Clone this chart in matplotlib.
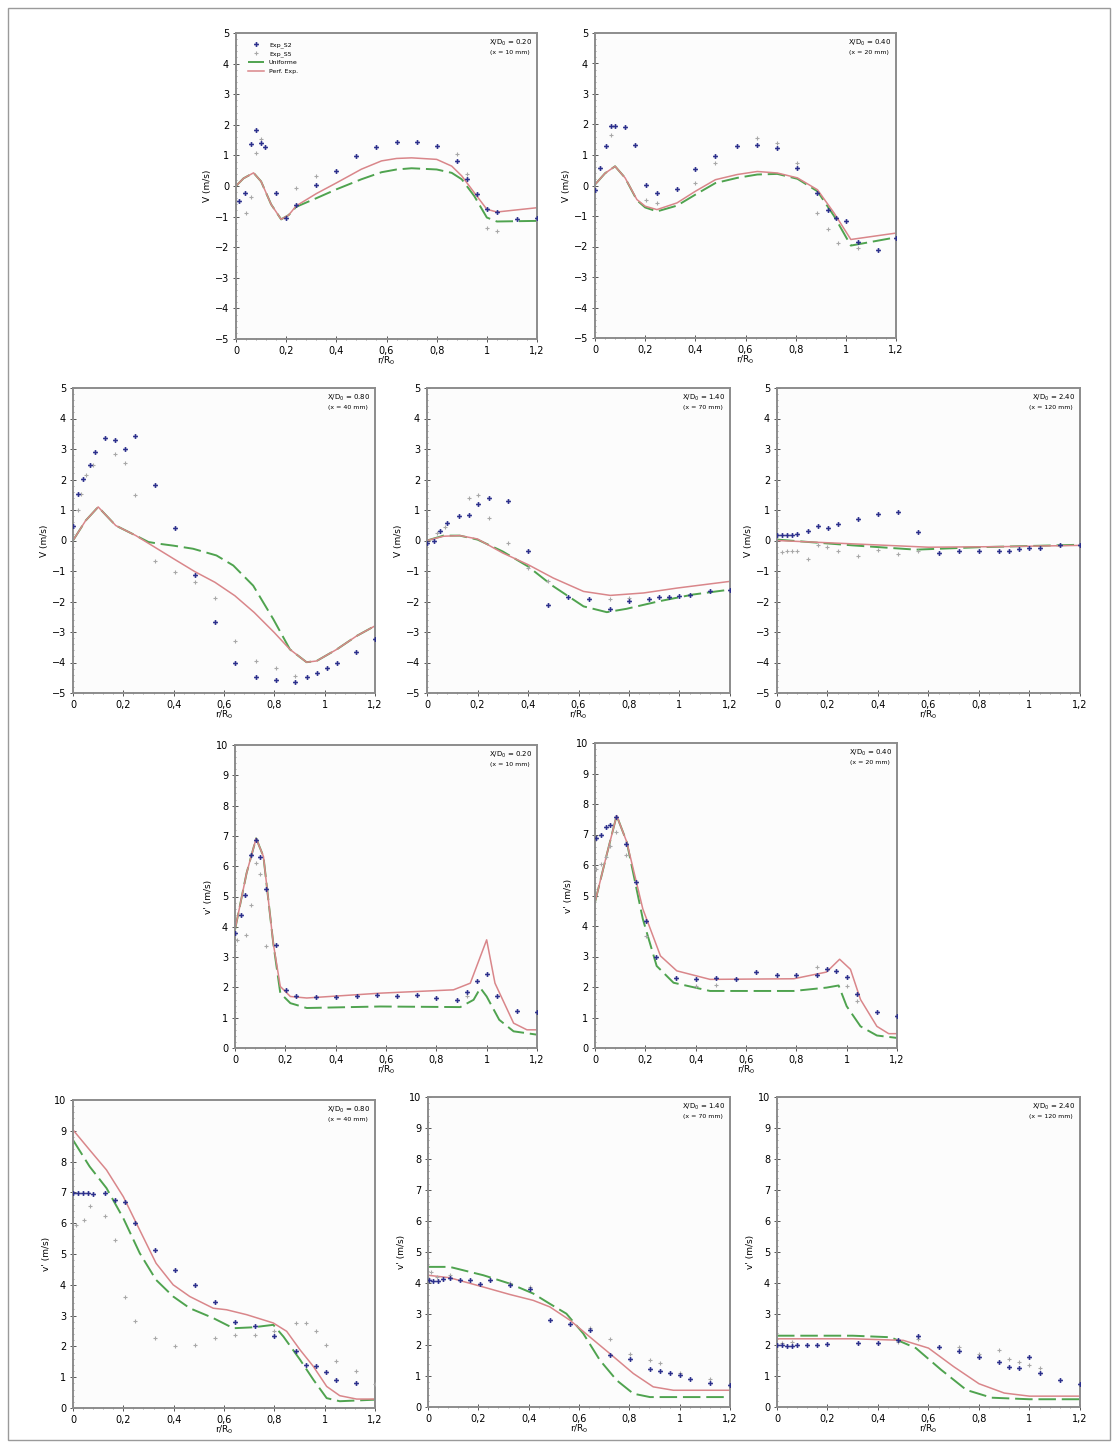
import numpy as np
import matplotlib
matplotlib.use('Agg')
import matplotlib.pyplot as plt
from matplotlib.ticker import MultipleLocator, FixedLocator
from matplotlib.patches import Rectangle

# Tamaño de figura en pixeles
W, H = 1118, 1448

# Colores
c_s2 = '#2b2f8c'
c_s5 = '#a8a8a8'
c_perf = '#d9868a'
c_unif = '#4fa34f'

# ---------------- Datos: V, X/D0 = 0.20 ----------------
v020_s2_r = [0.01, 0.035, 0.06, 0.08, 0.10, 0.115, 0.16, 0.20, 0.24, 0.32, 0.40, 0.48, 0.56, 0.64, 0.72, 0.80, 0.88, 0.92, 0.96, 1.00, 1.04, 1.12, 1.20]
v020_s2_v = [-0.49, -0.22, 1.36, 1.83, 1.41, 1.28, -0.22, -1.03, -0.62, 0.03, 0.49, 0.98, 1.28, 1.43, 1.43, 1.30, 0.82, 0.22, -0.27, -0.74, -0.85, -1.09, -1.05]
v020_s5_r = [0.04, 0.06, 0.08, 0.10, 0.24, 0.32, 0.88, 0.92, 1.00, 1.04]
v020_s5_v = [-0.87, -0.36, 1.09, 1.52, -0.05, 0.33, 1.03, 0.38, -1.36, -1.47]
v020_perf_r = [0.0, 0.03, 0.07, 0.10, 0.14, 0.18, 0.21, 0.24, 0.32, 0.40, 0.50, 0.58, 0.64, 0.70, 0.80, 0.86, 0.90, 0.95, 1.00, 1.04, 1.20]
v020_perf_v = [0.0, 0.25, 0.43, 0.15, -0.60, -1.09, -0.95, -0.65, -0.25, 0.10, 0.55, 0.82, 0.90, 0.92, 0.87, 0.65, 0.33, -0.22, -0.76, -0.85, -0.71]
v020_unif_r = [0.0, 0.03, 0.07, 0.10, 0.14, 0.18, 0.21, 0.24, 0.32, 0.40, 0.50, 0.58, 0.64, 0.70, 0.80, 0.86, 0.90, 0.95, 1.00, 1.04, 1.20]
v020_unif_v = [0.0, 0.25, 0.43, 0.15, -0.60, -1.09, -0.95, -0.68, -0.40, -0.11, 0.22, 0.45, 0.54, 0.58, 0.54, 0.43, 0.22, -0.33, -1.03, -1.16, -1.14]

# ---------------- Datos: V, X/D0 = 0.40 ----------------
v040_s2_r = [0.0, 0.02, 0.044, 0.063, 0.08, 0.12, 0.16, 0.204, 0.247, 0.327, 0.40, 0.48, 0.567, 0.647, 0.727, 0.807, 0.887, 0.927, 0.96, 1.0, 1.047, 1.127, 1.2]
v040_s2_v = [-0.14, 0.57, 1.28, 1.96, 1.96, 1.92, 1.34, 0.03, -0.25, -0.11, 0.54, 0.98, 1.28, 1.34, 1.23, 0.57, -0.25, -0.79, -1.07, -1.17, -1.86, -2.10, -1.72]
v040_s5_r = [0.063, 0.204, 0.247, 0.40, 0.48, 0.647, 0.727, 0.807, 0.887, 0.927, 0.967, 1.047]
v040_s5_v = [1.67, -0.46, -0.57, 0.08, 0.74, 1.56, 1.39, 0.74, -0.90, -1.43, -1.89, -2.05]
v040_perf_r = [0.0, 0.04, 0.08, 0.12, 0.167, 0.20, 0.247, 0.327, 0.40, 0.48, 0.567, 0.647, 0.727, 0.807, 0.887, 0.953, 1.02, 1.2]
v040_perf_v = [0.03, 0.40, 0.63, 0.25, -0.46, -0.68, -0.79, -0.57, -0.19, 0.19, 0.36, 0.46, 0.41, 0.25, -0.14, -0.90, -1.77, -1.56]
v040_unif_r = [0.0, 0.04, 0.08, 0.12, 0.167, 0.20, 0.247, 0.327, 0.40, 0.48, 0.567, 0.647, 0.727, 0.807, 0.887, 0.953, 1.02, 1.2]
v040_unif_v = [0.03, 0.40, 0.63, 0.25, -0.48, -0.72, -0.85, -0.66, -0.30, 0.08, 0.25, 0.36, 0.38, 0.22, -0.19, -1.00, -1.97, -1.70]

# ---------------- Datos: V, X/D0 = 0.80 ----------------
v080_s2_r = [0.0, 0.02, 0.04, 0.066, 0.086, 0.126, 0.166, 0.206, 0.245, 0.325, 0.404, 0.484, 0.564, 0.643, 0.727, 0.806, 0.882, 0.928, 0.968, 1.008, 1.048, 1.125, 1.2]
v080_s2_v = [0.49, 1.54, 2.03, 2.47, 2.89, 3.35, 3.30, 2.99, 3.44, 1.81, 0.41, -1.13, -2.67, -4.01, -4.48, -4.56, -4.65, -4.48, -4.34, -4.19, -4.01, -3.66, -3.24]
v080_s5_r = [0.02, 0.03, 0.053, 0.08, 0.166, 0.206, 0.245, 0.325, 0.404, 0.484, 0.564, 0.643, 0.727, 0.806, 0.882]
v080_s5_v = [0.99, 1.54, 2.14, 2.47, 2.82, 2.55, 1.48, -0.66, -1.04, -1.37, -1.87, -3.30, -3.96, -4.19, -4.45]
v080_perf_r = [0.0, 0.05, 0.10, 0.17, 0.25, 0.325, 0.40, 0.484, 0.564, 0.643, 0.72, 0.80, 0.862, 0.928, 0.968, 1.048, 1.127, 1.2]
v080_perf_v = [0.0, 0.65, 1.10, 0.49, 0.16, -0.22, -0.60, -1.02, -1.37, -1.81, -2.36, -3.02, -3.57, -3.99, -3.95, -3.57, -3.13, -2.80]
v080_unif_r = [0.0, 0.05, 0.10, 0.17, 0.25, 0.30, 0.345, 0.40, 0.477, 0.57, 0.637, 0.716, 0.796, 0.862, 0.928, 0.968, 1.048, 1.127, 1.2]
v080_unif_v = [0.0, 0.65, 1.10, 0.49, 0.16, -0.05, -0.11, -0.17, -0.27, -0.49, -0.82, -1.48, -2.58, -3.57, -3.99, -3.95, -3.57, -3.13, -2.80]

# ---------------- Datos: V, X/D0 = 1.40 ----------------
v140_s2_r = [0.0, 0.026, 0.05, 0.08, 0.125, 0.165, 0.20, 0.245, 0.32, 0.40, 0.48, 0.56, 0.64, 0.723, 0.80, 0.88, 0.92, 0.96, 1.0, 1.04, 1.12, 1.2]
v140_s2_v = [-0.08, 0.0, 0.30, 0.57, 0.79, 0.85, 1.20, 1.39, 1.31, -0.33, -2.10, -1.84, -1.91, -2.24, -1.97, -1.93, -1.84, -1.84, -1.82, -1.80, -1.67, -1.61]
v140_s5_r = [0.04, 0.07, 0.165, 0.20, 0.245, 0.32, 0.40, 0.48, 0.723, 0.80]
v140_s5_v = [0.25, 0.45, 1.39, 1.50, 0.74, -0.08, -0.90, -1.34, -1.93, -1.88]
v140_perf_r = [0.0, 0.066, 0.13, 0.20, 0.30, 0.40, 0.50, 0.62, 0.726, 0.858, 0.99, 1.2]
v140_perf_v = [0.0, 0.14, 0.16, 0.05, -0.41, -0.79, -1.23, -1.67, -1.80, -1.72, -1.56, -1.34]
v140_unif_r = [0.0, 0.066, 0.13, 0.20, 0.30, 0.40, 0.50, 0.62, 0.712, 0.79, 0.92, 1.055, 1.2]
v140_unif_v = [0.0, 0.16, 0.16, 0.03, -0.36, -0.85, -1.50, -2.16, -2.35, -2.24, -1.99, -1.77, -1.61]

# ---------------- Datos: V, X/D0 = 2.40 ----------------
v240_s2_r = [0.0, 0.02, 0.04, 0.06, 0.08, 0.123, 0.162, 0.202, 0.24, 0.32, 0.40, 0.48, 0.56, 0.64, 0.72, 0.80, 0.88, 0.92, 0.96, 1.0, 1.04, 1.12, 1.2]
v240_s2_v = [0.19, 0.19, 0.19, 0.19, 0.20, 0.30, 0.46, 0.42, 0.55, 0.71, 0.87, 0.95, 0.27, -0.40, -0.34, -0.36, -0.34, -0.34, -0.27, -0.23, -0.23, -0.16, -0.16]
v240_s5_r = [0.02, 0.04, 0.06, 0.08, 0.123, 0.162, 0.20, 0.24, 0.32, 0.40, 0.48, 0.56]
v240_s5_v = [-0.38, -0.36, -0.36, -0.36, -0.60, -0.16, -0.22, -0.36, -0.51, -0.30, -0.44, -0.33]
v240_perf_r = [0.0, 0.3, 0.6, 0.9, 1.2]
v240_perf_v = [0.0, -0.11, -0.22, -0.20, -0.16]
v240_unif_r = [0.0, 0.3, 0.55, 0.8, 1.2]
v240_unif_v = [0.03, -0.16, -0.30, -0.22, -0.14]

# ---------------- Datos: v', X/D0 = 0.20 ----------------
f020_s2_r = [0.0, 0.022, 0.04, 0.062, 0.084, 0.10, 0.123, 0.163, 0.203, 0.243, 0.322, 0.40, 0.484, 0.564, 0.643, 0.723, 0.80, 0.882, 0.922, 0.96, 1.0, 1.04, 1.12, 1.2]
f020_s2_v = [3.79, 4.40, 5.05, 6.37, 6.87, 6.29, 5.24, 3.41, 1.92, 1.70, 1.68, 1.67, 1.70, 1.76, 1.70, 1.74, 1.65, 1.59, 1.85, 2.20, 2.45, 1.70, 1.21, 1.18]
f020_s5_r = [0.007, 0.044, 0.062, 0.084, 0.10, 0.123, 0.922]
f020_s5_v = [3.57, 3.74, 4.73, 6.10, 5.75, 3.35, 1.73]
f020_perf_r = [0.0, 0.046, 0.084, 0.113, 0.152, 0.18, 0.22, 0.285, 0.577, 0.868, 0.935, 1.0, 1.033, 1.107, 1.16, 1.2]
f020_perf_v = [3.90, 5.77, 6.92, 6.32, 3.46, 2.03, 1.70, 1.65, 1.81, 1.92, 2.14, 3.57, 2.14, 0.82, 0.60, 0.60]
f020_unif_r = [0.0, 0.046, 0.084, 0.113, 0.152, 0.18, 0.22, 0.285, 0.577, 0.895, 0.948, 0.975, 1.0, 1.05, 1.107, 1.2]
f020_unif_v = [3.90, 5.77, 6.92, 6.32, 3.46, 1.81, 1.48, 1.32, 1.37, 1.35, 1.59, 1.98, 1.70, 0.93, 0.55, 0.44]

# ---------------- Datos: v', X/D0 = 0.40 ----------------
f040_s2_r = [0.004, 0.022, 0.044, 0.06, 0.084, 0.123, 0.163, 0.203, 0.243, 0.322, 0.40, 0.48, 0.561, 0.64, 0.723, 0.80, 0.882, 0.922, 0.959, 1.0, 1.04, 1.12, 1.2]
f040_s2_v = [6.87, 6.98, 7.25, 7.30, 7.58, 6.70, 5.44, 4.18, 2.97, 2.31, 2.27, 2.31, 2.27, 2.49, 2.38, 2.38, 2.38, 2.60, 2.53, 2.34, 1.78, 1.18, 1.04]
f040_s5_r = [0.004, 0.022, 0.044, 0.06, 0.084, 0.123, 0.203, 0.40, 0.48, 0.882, 1.0, 1.04]
f040_s5_v = [5.88, 6.04, 6.26, 6.62, 7.09, 6.32, 3.68, 2.03, 2.05, 2.64, 2.03, 1.54]
f040_perf_r = [0.0, 0.046, 0.086, 0.126, 0.19, 0.26, 0.325, 0.457, 0.79, 0.92, 0.972, 1.015, 1.055, 1.12, 1.167, 1.2]
f040_perf_v = [4.78, 6.32, 7.62, 6.76, 4.56, 3.02, 2.53, 2.25, 2.27, 2.49, 2.91, 2.58, 1.59, 0.71, 0.47, 0.47]
f040_unif_r = [0.0, 0.046, 0.086, 0.126, 0.19, 0.245, 0.312, 0.457, 0.79, 0.92, 0.968, 1.0, 1.055, 1.12, 1.2]
f040_unif_v = [4.78, 6.32, 7.62, 6.76, 4.23, 2.69, 2.14, 1.87, 1.87, 1.98, 2.05, 1.37, 0.71, 0.41, 0.33]

# ---------------- Datos: v', X/D0 = 0.80 ----------------
f080_s2_r = [0.0, 0.02, 0.04, 0.06, 0.08, 0.126, 0.166, 0.206, 0.245, 0.325, 0.404, 0.484, 0.564, 0.643, 0.723, 0.80, 0.886, 0.926, 0.966, 1.005, 1.045, 1.125]
f080_s2_v = [6.97, 6.97, 6.97, 6.97, 6.95, 6.97, 6.74, 6.70, 6.02, 5.14, 4.47, 4.00, 3.44, 2.78, 2.65, 2.34, 1.84, 1.41, 1.35, 1.16, 0.92, 0.81]
f080_s5_r = [0.013, 0.042, 0.066, 0.126, 0.166, 0.206, 0.245, 0.325, 0.404, 0.484, 0.564, 0.643, 0.723, 0.80, 0.886, 0.926, 0.966, 1.005, 1.045, 1.125, 1.2]
f080_s5_v = [5.95, 6.11, 6.56, 6.22, 5.44, 3.62, 2.84, 2.27, 2.00, 2.05, 2.27, 2.38, 2.38, 2.49, 2.76, 2.76, 2.49, 2.05, 1.51, 1.19, 0.77]
f080_perf_r = [0.0, 0.066, 0.133, 0.20, 0.265, 0.33, 0.398, 0.464, 0.557, 0.61, 0.69, 0.796, 0.849, 0.902, 0.955, 1.008, 1.06, 1.127, 1.2]
f080_perf_v = [9.03, 8.38, 7.73, 6.86, 5.78, 4.70, 4.00, 3.62, 3.24, 3.19, 3.03, 2.76, 2.49, 1.89, 1.35, 0.70, 0.40, 0.29, 0.29]
f080_unif_r = [0.0, 0.066, 0.133, 0.20, 0.265, 0.33, 0.398, 0.464, 0.557, 0.637, 0.716, 0.796, 0.836, 0.902, 0.955, 1.008, 1.06, 1.2]
f080_unif_v = [8.70, 7.84, 7.14, 6.16, 5.03, 4.16, 3.62, 3.24, 2.92, 2.59, 2.62, 2.70, 2.32, 1.57, 0.92, 0.32, 0.22, 0.27]

# ---------------- Datos: v', X/D0 = 1.40 ----------------
f140_s2_r = [0.004, 0.02, 0.04, 0.06, 0.086, 0.126, 0.166, 0.206, 0.245, 0.325, 0.404, 0.484, 0.564, 0.643, 0.723, 0.802, 0.882, 0.922, 0.962, 1.0, 1.04, 1.12, 1.2]
f140_s2_v = [4.09, 4.05, 4.05, 4.12, 4.15, 4.11, 4.11, 3.98, 4.11, 3.95, 3.82, 2.80, 2.69, 2.49, 1.67, 1.56, 1.22, 1.16, 1.10, 1.04, 0.91, 0.77, 0.72]
f140_s5_r = [0.013, 0.036, 0.086, 0.245, 0.325, 0.404, 0.643, 0.723, 0.802, 0.882, 0.922, 1.0, 1.12]
f140_s5_v = [4.35, 4.19, 4.25, 4.09, 4.00, 3.87, 2.56, 2.20, 1.72, 1.53, 1.42, 1.10, 0.91]
f140_perf_r = [0.0, 0.086, 0.22, 0.325, 0.418, 0.484, 0.564, 0.643, 0.723, 0.816, 0.895, 0.975, 1.2]
f140_perf_v = [4.25, 4.17, 3.87, 3.63, 3.44, 3.23, 2.80, 2.26, 1.72, 1.08, 0.65, 0.54, 0.54]
f140_unif_r = [0.0, 0.086, 0.22, 0.325, 0.418, 0.484, 0.55, 0.617, 0.683, 0.75, 0.816, 0.882, 1.2]
f140_unif_v = [4.52, 4.52, 4.25, 3.98, 3.66, 3.33, 3.01, 2.37, 1.51, 0.86, 0.43, 0.32, 0.32]

# ---------------- Datos: v', X/D0 = 2.40 ----------------
f240_s2_r = [0.0, 0.02, 0.04, 0.06, 0.08, 0.12, 0.16, 0.20, 0.32, 0.40, 0.48, 0.56, 0.64, 0.72, 0.80, 0.88, 0.92, 0.96, 1.0, 1.04, 1.12, 1.2]
f240_s2_v = [2.0, 2.0, 1.98, 1.98, 2.0, 2.0, 2.0, 2.02, 2.06, 2.06, 2.15, 2.30, 1.95, 1.82, 1.60, 1.45, 1.30, 1.25, 1.60, 1.10, 0.88, 0.75]
f240_s5_r = [0.02, 0.06, 0.48, 0.56, 0.72, 0.80, 0.88, 0.92, 0.96, 1.0, 1.04]
f240_s5_v = [2.05, 2.10, 2.10, 2.20, 1.95, 1.70, 1.85, 1.55, 1.45, 1.35, 1.25]
f240_perf_r = [0.0, 0.3, 0.5, 0.6, 0.7, 0.8, 0.9, 1.0, 1.2]
f240_perf_v = [2.20, 2.20, 2.15, 1.90, 1.30, 0.75, 0.45, 0.35, 0.35]
f240_unif_r = [0.0, 0.3, 0.45, 0.55, 0.65, 0.75, 0.85, 1.0, 1.2]
f240_unif_v = [2.30, 2.30, 2.25, 1.90, 1.20, 0.55, 0.30, 0.25, 0.25]

# Etiquetas
leg_labels = ['Exp_S2', 'Exp_S5', 'Uniforme', 'Perf. Exp.']
xtick_vals = [0, 0.2, 0.4, 0.6, 0.8, 1.0, 1.2]
xtick_labels = ['0', '0,2', '0,4', '0,6', '0,8', '1', '1,2']

paneles = [
    # (caja en pixeles l, t, r, b), tipo, X/D0, x mm, datos
    ((236, 33, 537, 339), 'V', '0.20', '10', (v020_s2_r, v020_s2_v, v020_s5_r, v020_s5_v, v020_unif_r, v020_unif_v, v020_perf_r, v020_perf_v)),
    ((595, 33, 896, 338), 'V', '0.40', '20', (v040_s2_r, v040_s2_v, v040_s5_r, v040_s5_v, v040_unif_r, v040_unif_v, v040_perf_r, v040_perf_v)),
    ((73, 388, 375, 693), 'V', '0.80', '40', (v080_s2_r, v080_s2_v, v080_s5_r, v080_s5_v, v080_unif_r, v080_unif_v, v080_perf_r, v080_perf_v)),
    ((427, 388, 730, 693), 'V', '1.40', '70', (v140_s2_r, v140_s2_v, v140_s5_r, v140_s5_v, v140_unif_r, v140_unif_v, v140_perf_r, v140_perf_v)),
    ((777, 388, 1080, 693), 'V', '2.40', '120', (v240_s2_r, v240_s2_v, v240_s5_r, v240_s5_v, v240_unif_r, v240_unif_v, v240_perf_r, v240_perf_v)),
    ((235, 745, 537, 1048), 'v', '0.20', '10', (f020_s2_r, f020_s2_v, f020_s5_r, f020_s5_v, f020_unif_r, f020_unif_v, f020_perf_r, f020_perf_v)),
    ((595, 743, 897, 1048), 'v', '0.40', '20', (f040_s2_r, f040_s2_v, f040_s5_r, f040_s5_v, f040_unif_r, f040_unif_v, f040_perf_r, f040_perf_v)),
    ((73, 1100, 375, 1408), 'v', '0.80', '40', (f080_s2_r, f080_s2_v, f080_s5_r, f080_s5_v, f080_unif_r, f080_unif_v, f080_perf_r, f080_perf_v)),
    ((428, 1097, 730, 1407), 'v', '1.40', '70', (f140_s2_r, f140_s2_v, f140_s5_r, f140_s5_v, f140_unif_r, f140_unif_v, f140_perf_r, f140_perf_v)),
    ((777, 1097, 1080, 1407), 'v', '2.40', '120', (f240_s2_r, f240_s2_v, f240_s5_r, f240_s5_v, f240_unif_r, f240_unif_v, f240_perf_r, f240_perf_v)),
]

fig = plt.figure(figsize=(W / 100, H / 100), dpi=100)
fig.patch.set_facecolor('white')

# marco general de la pagina
fig.add_artist(Rectangle((8 / W, 8 / H), 1 - 16 / W, 1 - 16 / H, transform=fig.transFigure,
                         fill=False, edgecolor='#9a9a9a', linewidth=1.0))


def caja(l, t, r, b):
    return [l / W, 1 - b / H, (r - l) / W, (b - t) / H]


for i, (box, tipo, xd, xmm, datos) in enumerate(paneles):
    s2r, s2v, s5r, s5v, ur, uv, pr, pv = datos
    ax = fig.add_axes(caja(*box))
    ax.set_facecolor('#fcfcfc')

    ax.plot(s2r, s2v, linestyle='none', marker='P', markersize=3.5, color=c_s2,
            markeredgewidth=0, label=leg_labels[0], zorder=4)
    ax.plot(s5r, s5v, linestyle='none', marker='+', markersize=3.5, color=c_s5,
            markeredgewidth=0.8, label=leg_labels[1], zorder=3)
    ax.plot(ur, uv, color=c_unif, linewidth=1.4, dashes=(9, 3), label=leg_labels[2], zorder=2)
    ax.plot(pr, pv, color=c_perf, linewidth=1.1, label=leg_labels[3], zorder=2)

    ax.set_xlim(0, 1.2)
    if tipo == 'V':
        ax.set_ylim(-5, 5)
        ax.set_yticks(range(-5, 6))
        ax.set_ylabel('V (m/s)', fontsize=6.5, labelpad=2)
    else:
        ax.set_ylim(0, 10)
        ax.set_yticks(range(0, 11))
        ax.set_ylabel("v' (m/s)", fontsize=6.5, labelpad=2)
    ax.yaxis.set_minor_locator(MultipleLocator(0.2))
    ax.set_xticks(xtick_vals)
    ax.set_xticklabels(xtick_labels)
    ax.xaxis.set_minor_locator(MultipleLocator(0.04))
    ax.set_xlabel('r/R$_0$', fontsize=6.5, labelpad=-1)

    ax.tick_params(which='major', direction='inout', length=4, width=0.7, labelsize=7,
                   color='#555555', pad=3)
    ax.tick_params(which='minor', direction='inout', length=2, width=0.5, color='#777777')
    for sp in ax.spines.values():
        sp.set_color('#8c8c8c')
        sp.set_linewidth(1.4)

    ax.text(0.985, 0.985, 'X/D$_0$ = ' + xd, transform=ax.transAxes, ha='right', va='top',
            fontsize=5)
    ax.text(0.975, 0.945, '(x = ' + xmm + ' mm)', transform=ax.transAxes, ha='right', va='top',
            fontsize=4.5)

    if i == 0:
        ax.legend(loc='upper left', fontsize=4.5, frameon=False, handlelength=2.6,
                  bbox_to_anchor=(0.02, 0.99), labelspacing=0.5)

fig.savefig('out.png', dpi=100)
